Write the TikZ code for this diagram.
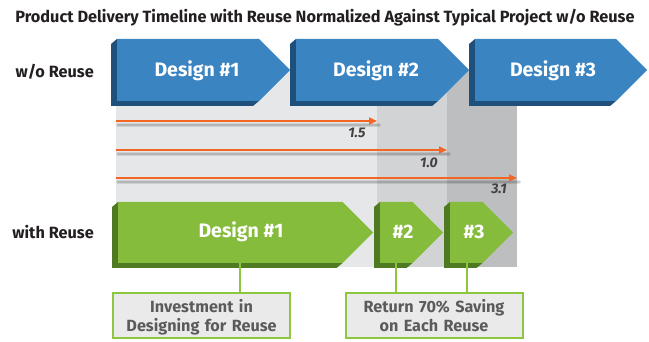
\documentclass[tikz,border=0pt]{standalone}
\usepackage{fontspec}
\setmainfont{Fira Sans}
\usetikzlibrary{arrows.meta,calc}
\definecolor{bluef}{HTML}{3A84C1}
\definecolor{blued}{HTML}{1F4F7B}
\definecolor{greenf}{HTML}{86BC3C}
\definecolor{greend}{HTML}{4F7A22}
\definecolor{gl}{HTML}{E6E7E8}
\definecolor{gm}{HTML}{D1D3D4}
\definecolor{gd}{HTML}{BCBEC0}
\definecolor{orng}{HTML}{F26522}
\definecolor{boxfill}{HTML}{EAEAEB}
\definecolor{boxline}{HTML}{8DC63F}
\definecolor{txtg}{HTML}{5B5B5B}
\definecolor{ink}{HTML}{231F20}
\newcommand\chev[6]{%
  \pgfmathsetmacro\hh{(#4-#3)/2}%
  \pgfmathsetmacro\xf{#2-\hh}%
  \pgfmathsetmacro\ym{(#3+#4)/2}%
  \fill[#6] (#1,#3) -- (#1-6,#3+5) -- (#1-6,#4+5) -- (\xf-6,#4+5) -- (\xf,#4) -- (#1,#4) -- cycle;
  \fill[#5] (#1,#3) -- (\xf,#3) -- (#2,\ym) -- (\xf,#4) -- (#1,#4) -- cycle;
}
\tikzset{
  title/.style={inner sep=0, text=ink, font=\bfseries\fontsize{16.3}{18}\selectfont},
  rowlab/.style={inner sep=0, anchor=east, text=ink, font=\bfseries\fontsize{16.3}{18}\selectfont},
  intext/.style={inner sep=0, text=white, font=\bfseries\fontsize{19.5}{22}\selectfont},
  vlab/.style={inner sep=0, text=ink!85, font=\bfseries\itshape\fontsize{14}{16}\selectfont},
  oarrow/.style={orng, line width=2pt, -{Triangle[length=8pt,width=7pt]}},
  oshadow/.style={black, opacity=0.10, line width=4pt, line cap=round},
  conn/.style={boxline, line width=2pt},
  infobox/.style={draw=boxline, line width=2pt, fill=boxfill, text=txtg, align=center,
    text width=170pt, minimum width=177pt, anchor=north, inner ysep=6pt, text depth=20pt,
    font=\bfseries\fontsize{16.2}{19}\selectfont}
}
\begin{document}
\begin{tikzpicture}[x=1pt,y=-1pt]
\clip (0,0) rectangle (649,342);
\fill[white] (0,0) rectangle (649,342);
% background bands
\fill[gl] (116,70) rectangle (377,267);
\fill[gm] (377,70) rectangle (447,267);
\fill[gd] (447,70) rectangle (517,267);
% orange arrows
\coordinate (o1s) at (116,121); \coordinate (o1e) at (377,121);
\coordinate (o2s) at (116,150); \coordinate (o2e) at (447,150);
\coordinate (o3s) at (116,178); \coordinate (o3e) at (517,178);
\foreach \s/\e in {o1s/o1e,o2s/o2e,o3s/o3e}{
  \draw[oshadow] ($(\s)+(2,4)$) -- ($(\e)+(2,4)$);
  \draw[oshadow, line width=2pt, opacity=0.12] ($(\s)+(2,4)$) -- ($(\e)+(2,4)$);
  \draw[oarrow] (\s) -- (\e);
}
\node[vlab] (l1) at (357,133) {1.5};
\node[vlab] (l2) at (429,163) {1.0};
\node[vlab] (l3) at (499,189) {3.1};
% blue chevrons
\chev{117}{290}{39}{101}{bluef}{blued}
\chev{296}{469}{39}{101}{bluef}{blued}
\chev{475}{647}{39}{101}{bluef}{blued}
\node[intext] (b1) at (197,71) {Design \#1};
\node[intext] (b2) at (376,71) {Design \#2};
\node[intext] (b3) at (553,71) {Design \#3};
% green chevrons
\chev{118}{373}{202}{263}{greenf}{greend}
\chev{380}{443}{202}{263}{greenf}{greend}
\chev{450}{513}{202}{263}{greenf}{greend}
\node[intext] (g1) at (241,232) {Design \#1};
\node[intext] (g2) at (403,232) {\#2};
\node[intext] (g3) at (474,232) {\#3};
% title and row labels
\node[title] (t) at (325,18) {Product Delivery Timeline with Reuse Normalized Against Typical Project w/o Reuse};
\node[rowlab] (r1) at (94,72) {w/o Reuse};
\node[rowlab] (r2) at (94,232) {with Reuse};
% boxes
\node[infobox] (inv) at (201.5,292) {Investment in\\Designing for Reuse};
\node[infobox] (ret) at (434,292) {Return 70\% Saving\\on Each Reuse};
% connectors
\coordinate (c1) at (240,263);
\coordinate (c2) at (396,263);
\coordinate (c3) at (467,263);
\draw[conn] (c1) -- (c1 |- inv.north);
\draw[conn] (c2) -- (c2 |- ret.north);
\draw[conn] (c3) -- (c3 |- ret.north);
\end{tikzpicture}
\end{document}
